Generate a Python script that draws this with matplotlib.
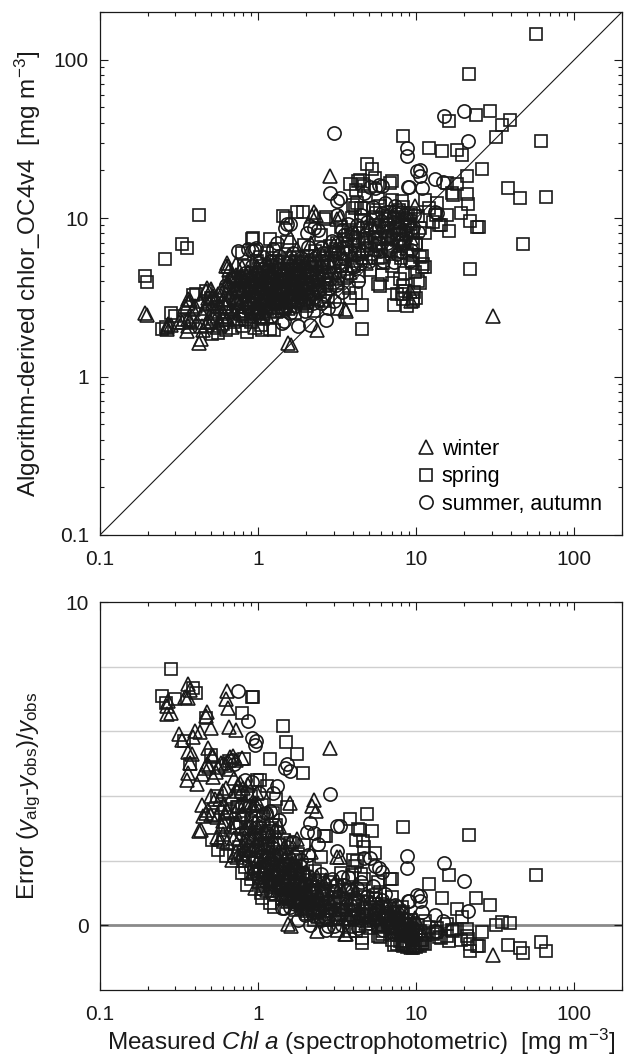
import numpy as np
import matplotlib
matplotlib.use('Agg')
import matplotlib.pyplot as plt
from matplotlib.ticker import LogLocator, NullFormatter, FixedLocator, FixedFormatter

plt.rcParams['font.family'] = ['Liberation Sans', 'DejaVu Sans']
plt.rcParams['mathtext.fontset'] = 'custom'
plt.rcParams['mathtext.rm'] = 'Liberation Sans'
plt.rcParams['mathtext.it'] = 'Liberation Sans:italic'

# (measured Chl a, algorithm chlor_OC4v4) in mg m-3
winter = [
    (0.193, 2.53), (0.197, 2.45), (0.265, 2.06), (0.265, 2.0), (0.27, 2.14), (0.28, 2.12),
    (0.345, 2.78), (0.362, 2.91), (0.318, 2.2), (0.329, 2.22), (0.362, 2.3), (0.37, 2.23),
    (0.362, 2.07), (0.354, 1.95), (0.362, 3.07), (0.37, 3.06), (0.389, 2.65), (0.435, 1.72),
    (0.44, 2.08), (0.45, 1.97), (0.42, 1.64), (0.466, 3.49), (0.476, 2.85), (0.478, 3.64),
    (0.485, 3.14), (0.5, 3.55), (0.51, 3.2), (0.52, 3.24), (0.574, 2.1), (0.6, 2.53),
    (0.62, 2.78), (0.623, 4.98), (0.633, 5.23), (0.647, 5.0), (0.656, 4.68), (0.725, 5.1),
    (0.79, 4.88), (0.77, 4.16), (0.73, 3.76), (0.98, 5.0), (1.55, 1.62), (1.61, 1.58),
    (1.59, 7.6), (2.2, 10.3), (2.26, 11.0), (2.32, 10.5), (3.28, 10.2), (2.85, 18.5),
    (2.35, 1.97), (3.55, 2.65), (3.58, 2.6), (8.1, 6.98), (8.2, 8.0), (6.8, 7.6),
    (9.1, 3.46), (9.3, 2.98), (3.15, 9.8), (30.5, 2.41), (0.68, 2.05), (0.95, 2.05),
    (0.48, 2.2), (0.5, 2.5), (0.52, 2.9), (0.55, 2.4), (0.56, 3.3), (0.58, 2.7),
    (0.6, 3.1), (0.6, 2.3), (0.62, 3.7), (0.64, 2.9), (0.66, 4.1), (0.68, 3.4),
    (0.7, 2.6), (0.7, 3.9), (0.72, 4.4), (0.74, 3.1), (0.76, 3.6), (0.78, 2.5),
    (0.8, 4.2), (0.82, 3.3), (0.84, 2.8), (0.86, 4.6), (0.88, 3.7), (0.9, 3.0),
    (0.92, 2.4), (0.95, 4.0), (0.97, 3.4), (1.0, 4.8), (1.02, 2.9), (1.05, 3.6),
    (1.08, 2.5), (1.1, 4.3), (1.12, 3.2), (1.15, 5.2), (1.18, 2.8), (1.2, 3.9),
    (1.25, 4.6), (1.28, 3.4), (1.3, 2.6), (1.35, 5.5), (1.38, 4.0), (1.4, 3.1),
    (1.45, 4.9), (1.5, 3.6), (1.55, 2.7), (1.6, 5.8), (1.62, 4.3), (1.68, 3.3),
    (1.75, 6.4), (1.8, 4.7), (1.85, 3.7), (1.9, 2.9), (2.0, 5.3), (2.1, 4.1),
    (2.15, 7.0), (2.25, 3.4), (2.35, 5.9), (2.45, 4.6), (2.6, 3.8), (2.7, 6.5),
    (2.9, 5.0), (3.1, 4.2), (3.3, 7.3), (3.5, 5.6), (3.8, 4.6), (4.1, 8.2),
    (4.4, 6.3), (4.8, 5.2), (5.2, 9.0), (5.6, 7.0), (6.0, 5.8), (6.5, 10.5),
    (7.0, 8.5), (7.5, 6.2), (8.5, 10.8), (9.2, 7.5), (9.8, 12.0),
    (0.74, 2.3), (0.81, 2.9), (0.87, 3.5), (0.93, 4.4), (0.99, 2.7), (1.04, 3.1),
    (1.09, 3.8), (1.14, 2.4), (1.22, 3.3), (1.27, 5.0), (1.33, 2.9), (1.41, 3.7),
    (1.47, 4.5), (1.53, 3.0), (1.66, 3.9), (1.72, 5.1), (1.83, 3.4), (1.95, 4.4),
    (2.05, 3.0), (2.2, 5.5), (2.4, 3.1),
    (3.0, 6.8), (3.9, 5.9), (4.6, 7.8), (5.4, 6.4), (6.2, 9.0), (7.2, 11.0),
    (7.9, 9.6), (8.8, 6.5),
    (0.38, 2.4), (0.4, 2.8), (0.41, 2.2), (0.43, 3.0), (0.44, 2.5), (0.46, 2.7),
    (0.47, 2.1), (0.49, 2.9), (0.5, 2.2), (0.53, 2.6), (0.54, 3.1), (0.55, 2.05),
    (0.57, 2.8), (0.58, 3.5), (0.59, 2.4), (0.61, 2.9), (0.63, 3.3), (0.64, 2.3),
    (0.65, 3.8), (0.67, 2.7), (0.69, 4.3), (0.71, 3.2), (0.72, 2.35), (0.75, 4.0),
    (0.76, 2.8), (0.79, 3.5), (0.8, 2.6), (0.83, 4.0), (0.85, 3.1), (0.89, 4.2),
    (0.91, 3.4), (0.94, 2.6), (0.96, 4.6), (1.0, 3.7), (1.01, 2.4), (1.06, 4.1),
    (1.11, 3.5), (1.13, 2.7), (1.17, 4.4), (1.21, 3.0), (1.24, 3.6), (1.31, 4.2),
    (1.36, 3.3), (1.43, 2.8), (1.49, 4.1), (1.57, 3.4), (1.64, 4.8), (1.7, 3.6),
    (1.78, 3.1), (1.88, 4.2), (1.98, 3.6), (2.1, 4.8), (2.3, 4.1), (2.5, 5.2),
    (2.8, 4.4),
]

spring = [
    (0.193, 4.31), (0.199, 3.95), (0.258, 5.48), (0.329, 6.82), (0.357, 6.5), (0.424, 10.4),
    (0.247, 2.0), (0.26, 2.05), (0.28, 2.5), (0.3, 2.4), (0.34, 2.28), (0.373, 2.23),
    (0.389, 3.25), (0.403, 3.3), (0.466, 3.45), (0.5, 3.14), (0.56, 1.87), (0.51, 1.86),
    (0.63, 1.98), (0.79, 2.07), (0.85, 1.92), (1.05, 2.1), (1.06, 1.97), (1.19, 2.0),
    (1.26, 1.97), (0.65, 3.95), (0.81, 4.98), (0.794, 6.0), (0.91, 7.35), (0.933, 7.52),
    (1.19, 7.33), (1.03, 5.66), (1.44, 10.3), (1.5, 10.0), (1.75, 11.0), (1.93, 11.0),
    (2.6, 9.8), (2.68, 10.1), (4.0, 12.1), (4.28, 17.1), (4.42, 17.5), (4.58, 16.5),
    (4.91, 21.8), (5.24, 20.5), (5.5, 17.8), (7.0, 17.1), (6.8, 16.6), (3.8, 16.3),
    (4.14, 15.1), (4.65, 15.9), (5.69, 13.4), (4.2, 12.5), (4.5, 11.6), (4.1, 11.6),
    (5.6, 10.8), (7.0, 13.1), (8.1, 12.8), (11.4, 13.1), (13.4, 10.5), (15.6, 10.5),
    (8.2, 33.1), (12.1, 27.7), (14.5, 26.7), (18.0, 27.1), (19.6, 24.9), (26.2, 20.5),
    (20.9, 18.4), (16.8, 14.4), (20.9, 14.1), (21.2, 12.3), (38.3, 15.4), (45.4, 13.3),
    (66.2, 13.5), (19.1, 10.7), (21.9, 9.55), (24.3, 8.85), (16.2, 8.26), (14.0, 9.0),
    (47.2, 6.82), (21.9, 4.8), (57.0, 145.0), (21.4, 81.5), (16.1, 41.2), (24.0, 44.5),
    (29.3, 47.5), (39.2, 41.6), (35.1, 38.9), (31.8, 32.3), (61.5, 30.8), (15.7, 16.6),
    (18.2, 16.3), (17.1, 14.0), (25.0, 8.8), (14.4, 9.0),
    (4.52, 1.99), (4.52, 2.81), (3.15, 2.65), (4.14, 3.38), (3.8, 3.14), (5.76, 3.82),
    (7.0, 3.91), (7.54, 3.3), (8.28, 3.07), (9.59, 3.07), (7.2, 2.84), (8.08, 3.3),
    (8.5, 3.46), (9.6, 2.98), (8.7, 2.78), (9.9, 3.14), (8.3, 3.72), (10.5, 3.9),
    (5.87, 3.72), (10.3, 4.0), (11.1, 5.11), (10.8, 4.94), (10.5, 5.66), (8.5, 4.52),
    (9.59, 5.89), (9.59, 6.98), (9.6, 8.0), (9.9, 6.9), (6.6, 7.6), (7.8, 7.4),
    (11.3, 4.88), (7.2, 10.2), (8.1, 9.7), (9.1, 9.2),
    (0.72, 2.9), (0.75, 3.5), (0.8, 2.4), (0.83, 3.9), (0.88, 2.7), (0.9, 4.5),
    (0.93, 3.2), (0.98, 5.4), (1.0, 2.6), (1.03, 3.8), (1.07, 4.6), (1.1, 3.0),
    (1.13, 6.0), (1.16, 3.5), (1.2, 2.7), (1.22, 4.9), (1.26, 3.9), (1.3, 6.4),
    (1.33, 3.0), (1.37, 4.4), (1.42, 2.6), (1.45, 5.3), (1.48, 3.7), (1.52, 7.1),
    (1.56, 4.1), (1.6, 3.1), (1.65, 5.0), (1.7, 2.5), (1.72, 3.8), (1.78, 5.7),
    (1.82, 4.4), (1.88, 3.2), (1.95, 6.8), (2.0, 3.9), (2.05, 2.8), (2.12, 5.1),
    (2.2, 4.4), (2.3, 6.2), (2.38, 3.5), (2.5, 7.8), (2.55, 5.3), (2.65, 4.3),
    (2.75, 3.2), (2.85, 6.7), (3.0, 5.2), (3.2, 3.9), (3.35, 8.8), (3.45, 6.0),
    (3.6, 4.8), (3.75, 3.6), (3.9, 10.0), (4.0, 7.2), (4.2, 5.4), (4.35, 4.3),
    (4.6, 8.6), (4.7, 11.5), (4.9, 6.4), (5.1, 4.7), (5.3, 9.8), (5.5, 7.6),
    (5.7, 5.6), (5.9, 12.0), (6.1, 4.4), (6.3, 8.2), (6.6, 6.5), (6.8, 10.9),
    (7.0, 5.0), (7.3, 9.3), (7.6, 7.3), (7.9, 4.1), (8.2, 11.7), (8.5, 8.8),
    (8.8, 6.0), (9.1, 9.6), (9.4, 5.2), (9.7, 3.4), (10.0, 7.0), (10.3, 10.3),
    (10.8, 5.8), (11.3, 8.0), (12.0, 11.5), (12.8, 9.5), (13.5, 12.5),
    (0.77, 3.2), (0.85, 4.3), (0.9, 2.2), (0.96, 3.6), (1.01, 4.2), (1.08, 2.3),
    (1.15, 4.0), (1.24, 3.1), (1.29, 5.3), (1.36, 3.5), (1.43, 4.1), (1.5, 2.9),
    (1.58, 5.6), (1.64, 3.4), (1.74, 4.7), (1.86, 3.0), (1.92, 5.0), (2.08, 3.6),
    (2.25, 2.6), (2.42, 5.8), (2.6, 3.0),
    (3.1, 6.4), (3.4, 5.0), (3.7, 7.8), (4.1, 6.0), (4.5, 9.6), (4.8, 7.0),
    (5.2, 5.9), (5.6, 10.2), (6.0, 7.4), (6.4, 9.8), (6.9, 6.2), (7.4, 8.6),
    (7.8, 11.2), (8.3, 7.2), (8.9, 10.5), (9.3, 8.4),
    (0.52, 2.3), (0.55, 2.75), (0.6, 2.15), (0.62, 2.55), (0.66, 3.0), (0.7, 2.2),
    (0.73, 3.4), (0.76, 2.6), (0.78, 4.0), (0.82, 2.3), (0.84, 3.4), (0.87, 2.9),
    (0.9, 3.8), (0.94, 2.5), (0.97, 4.4), (0.99, 3.0), (1.02, 2.5), (1.04, 3.4),
    (1.06, 5.0), (1.09, 2.8), (1.11, 3.9), (1.14, 3.2), (1.17, 4.6), (1.19, 2.6),
    (1.23, 3.6), (1.25, 5.6), (1.28, 2.9), (1.31, 4.0), (1.34, 3.3), (1.38, 4.8),
    (1.41, 3.0), (1.44, 3.6), (1.47, 2.7), (1.51, 4.4), (1.55, 3.5), (1.59, 2.8),
    (1.62, 4.6), (1.66, 3.8), (1.69, 3.0), (1.73, 5.4), (1.77, 4.0), (1.81, 3.3),
    (1.85, 4.8), (1.9, 3.5), (1.94, 2.9), (1.99, 4.5), (2.03, 5.8), (2.1, 3.2),
    (2.16, 4.7), (2.22, 3.8), (2.28, 5.4), (2.34, 4.2), (2.46, 3.4), (2.53, 4.6),
    (2.62, 5.6), (2.72, 3.9), (2.82, 4.9), (2.92, 6.0), (3.05, 4.5), (3.15, 7.0),
    (3.3, 5.5), (3.5, 4.2), (3.65, 6.6), (3.85, 8.2), (4.05, 5.0), (4.3, 7.4),
    (4.55, 5.6), (4.85, 8.4), (5.15, 6.8), (5.45, 9.0), (5.8, 7.0), (6.2, 5.2),
    (6.5, 8.6), (7.1, 6.7), (7.7, 9.4), (8.0, 5.6), (8.6, 7.8), (9.2, 10.8),
    (9.8, 4.6), (10.5, 8.7),
]

summer_autumn = [
    (3.0, 34.4), (15.0, 43.9), (19.9, 47.2), (21.2, 30.5), (8.8, 27.7), (8.8, 24.5),
    (10.6, 20.2), (10.5, 18.5), (14.8, 16.8), (13.1, 11.0), (13.2, 17.6), (13.6, 10.7),
    (2.85, 14.4), (3.3, 13.4), (3.15, 12.8), (5.48, 15.5), (5.1, 15.7), (4.65, 14.4),
    (5.8, 16.1), (6.04, 16.0), (9.06, 15.8), (10.8, 15.4), (8.9, 15.7), (3.15, 10.4),
    (0.75, 6.18), (0.867, 6.34), (0.97, 6.5), (0.91, 6.19), (0.955, 6.27), (1.52, 9.12),
    (1.48, 8.7), (1.31, 6.95), (1.25, 6.37), (2.14, 8.9), (2.05, 8.0), (1.59, 9.2),
    (2.25, 8.7), (2.39, 8.4), (3.38, 8.4), (3.9, 8.0), (5.7, 8.8), (6.6, 9.2),
    (9.1, 5.4), (6.2, 5.4), (7.2, 5.3), (1.79, 2.07), (2.12, 2.12), (2.68, 2.28),
    (1.42, 2.17), (1.46, 2.23), (2.76, 2.7), (3.0, 2.98), (4.0, 4.88), (4.26, 5.94),
    (0.7, 4.19), (0.686, 4.2), (0.63, 3.8),
    (0.85, 3.1), (0.9, 2.5), (0.95, 3.7), (1.0, 3.3), (1.05, 4.2), (1.1, 2.6),
    (1.12, 5.0), (1.17, 3.6), (1.22, 2.9), (1.27, 4.5), (1.32, 3.3), (1.36, 5.8),
    (1.4, 2.7), (1.44, 4.0), (1.5, 3.2), (1.54, 4.8), (1.58, 2.5), (1.63, 3.6),
    (1.67, 6.0), (1.72, 4.3), (1.77, 3.0), (1.83, 5.2), (1.9, 3.8), (1.97, 2.6),
    (2.02, 4.6), (2.08, 6.6), (2.18, 3.3), (2.28, 5.0), (2.4, 4.0), (2.48, 2.9),
    (2.58, 6.0), (2.68, 4.6), (2.8, 3.6), (2.95, 7.2), (3.05, 5.4), (3.25, 4.4),
    (3.4, 3.4), (3.55, 6.5), (3.7, 9.2), (3.85, 5.0), (4.05, 6.8), (4.3, 4.0),
    (4.5, 10.5), (4.75, 7.5), (5.0, 5.4), (5.3, 11.8), (5.6, 8.3), (5.9, 6.2),
    (6.3, 12.5), (6.7, 7.8), (7.1, 10.0), (7.5, 5.9), (8.0, 11.0), (8.4, 7.1),
    (8.8, 9.0), (9.3, 6.3), (9.7, 10.4), (10.2, 8.2), (10.1, 19.7),
    (0.8, 3.5), (0.88, 4.1), (0.94, 2.9), (1.02, 5.2), (1.07, 3.4), (1.14, 4.4),
    (1.2, 2.4), (1.26, 3.8), (1.3, 5.1), (1.38, 3.0), (1.46, 3.5), (1.52, 5.2),
    (1.6, 4.2), (1.7, 2.8), (1.8, 4.0), (1.86, 5.6), (1.94, 3.1), (2.1, 4.3),
    (2.22, 2.9), (2.35, 3.7), (2.52, 5.0),
    (3.2, 6.1), (3.6, 7.4), (4.2, 9.0), (4.6, 6.1), (5.1, 8.6), (5.5, 6.8),
    (6.1, 10.8), (6.5, 7.0), (7.3, 12.0), (7.8, 8.0), (8.6, 10.0), (9.5, 8.8),
    (0.78, 3.0), (0.82, 4.5), (0.86, 2.7), (0.89, 3.6), (0.92, 5.0), (0.96, 3.2),
    (0.99, 4.0), (1.01, 2.7), (1.04, 3.7), (1.08, 4.8), (1.1, 3.1), (1.13, 3.9),
    (1.16, 2.8), (1.19, 5.4), (1.21, 3.5), (1.24, 4.2), (1.28, 3.0), (1.33, 4.7),
    (1.35, 3.7), (1.39, 4.4), (1.42, 3.4), (1.48, 4.3), (1.51, 2.8), (1.56, 3.9),
    (1.61, 3.2), (1.65, 4.5), (1.69, 5.3), (1.74, 3.5), (1.76, 4.7), (1.81, 3.2),
    (1.84, 4.3), (1.88, 3.5), (1.92, 4.9), (1.96, 3.9), (2.0, 3.3), (2.06, 5.2),
    (2.13, 3.7), (2.2, 4.6), (2.26, 3.2), (2.32, 4.4), (2.44, 3.5), (2.5, 6.5),
    (2.56, 4.1), (2.64, 3.3), (2.74, 5.3), (2.86, 4.1), (3.0, 6.2), (3.12, 3.8),
    (3.3, 5.0), (3.48, 7.8), (3.65, 4.5), (3.8, 6.2), (4.1, 7.6), (4.4, 5.2),
    (4.9, 9.4), (5.4, 7.4), (6.0, 9.6), (6.8, 6.4), (7.6, 10.6), (8.2, 8.4),
]

seasons = [
    ('winter', '^', 10.5, winter),
    ('spring', 's', 9.0, spring),
    ('summer, autumn', 'o', 9.5, summer_autumn),
]

lims = [0.1, 200]
ink = '#1a1a1a'

fig = plt.figure(figsize=(6.27, 10.6), dpi=100)
ax1 = fig.add_axes([0.1595, 0.4953, 0.8325, 0.4934])
ax2 = fig.add_axes([0.1595, 0.0660, 0.8325, 0.3660])

for name, mk, ms, pts in seasons:
    obs, alg = np.array(pts).T
    err = (alg - obs) / obs
    ax1.plot(obs, alg, mk, ms=ms, mfc='none', mec=ink, mew=1.2, label=name)
    ax2.plot(obs, err, mk, ms=ms, mfc='none', mec=ink, mew=1.2)

ax1.plot(lims, lims, color=ink, lw=0.8, zorder=0)

for ax in (ax1, ax2):
    ax.set_xscale('log')
    ax.set_xlim(lims)
    ax.xaxis.set_major_locator(FixedLocator([0.1, 1, 10, 100]))
    ax.xaxis.set_major_formatter(FixedFormatter(['0.1', '1', '10', '100']))
    ax.xaxis.set_minor_locator(LogLocator(base=10, subs=np.arange(2, 10)))
    ax.xaxis.set_minor_formatter(NullFormatter())
    ax.tick_params(which='both', direction='in', top=True, right=True,
                   labelsize=15, colors=ink, width=0.8)
    ax.tick_params(which='major', length=6)
    ax.tick_params(which='minor', length=3)
    ax.tick_params(axis='x', pad=11)
    ax.tick_params(axis='y', pad=8)
    for s in ax.spines.values():
        s.set_linewidth(0.9)
        s.set_color(ink)

ax1.set_yscale('log')
ax1.set_ylim(lims)
ax1.yaxis.set_major_locator(FixedLocator([0.1, 1, 10, 100]))
ax1.yaxis.set_major_formatter(FixedFormatter(['0.1', '1', '10', '100']))
ax1.yaxis.set_minor_locator(LogLocator(base=10, subs=np.arange(2, 10)))
ax1.yaxis.set_minor_formatter(NullFormatter())
ax1.set_ylabel(r'Algorithm-derived chlor_OC4v4  [mg m$^{-3}$]', fontsize=17.5, color=ink)
ax1.yaxis.set_label_coords(-0.11, 0.5)
ax1.legend(loc='lower right', frameon=False, fontsize=15.5, handlelength=0.8,
           handletextpad=0.3, labelspacing=0.3, borderaxespad=0.75, borderpad=0.2)

ax2.set_ylim(-2, 10)
ax2.set_yticks([0, 10])
ax2.set_yticks([2, 4, 6, 8], minor=True)
ax2.tick_params(axis='y', which='minor', length=0)
ax2.grid(axis='y', which='minor', color='#cfcfcf', lw=1.0)
ax2.axhline(0, color='#8a8a8a', lw=2.0, zorder=0.5)
ax2.set_axisbelow(True)
ax2.set_ylabel(r'Error ($y_{\mathrm{alg}}$-$y_{\mathrm{obs}}$)/$y_{\mathrm{obs}}$', fontsize=17.5, color=ink)
ax2.yaxis.set_label_coords(-0.11, 0.5)
ax2.set_xlabel(r'Measured $Chl\ a$ (spectrophotometric)  [mg m$^{-3}$]', fontsize=17.5,
               color=ink, labelpad=2)

fig.savefig('out.png', dpi=100)
